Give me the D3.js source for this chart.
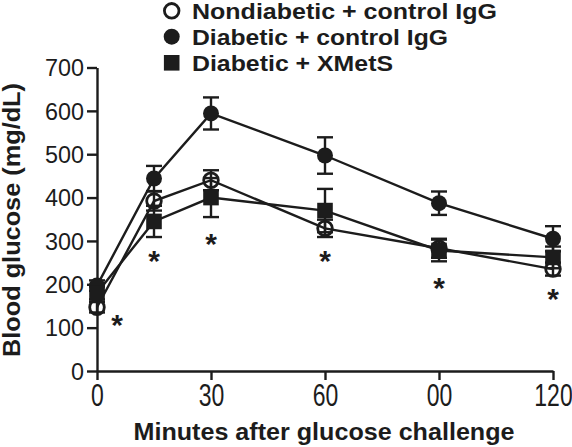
<!DOCTYPE html>
<html>
<head>
<meta charset="utf-8">
<script src="https://cdn.jsdelivr.net/npm/d3@7"></script>
<style>
  html, body { margin: 0; padding: 0; background: #fff; }
  svg { display: block; }
  text { font-family: "Liberation Sans", Arial, Helvetica, sans-serif; fill: #1c1c1c; }
</style>
</head>
<body>
<svg id="chart" width="572" height="447"></svg>
<script>
// ---- data ----
const times = [0, 15, 30, 60, 90, 120];
const seriesNames = ["Nondiabetic + control IgG", "Diabetic + control IgG", "Diabetic + XMetS"];
const nondiabeticIgG = [147, 392, 440, 329, 283, 235];
const nondiabeticIgGErr = [12, 22, 23, 20, 22, 15];
const diabeticIgG = [197, 444, 594, 497, 387, 305];
const diabeticIgGErr = [12, 29, 37, 42, 27, 29];
const diabeticXMetS = [180, 345, 400, 370, 278, 262];
const diabeticXMetSErr = [15, 36, 45, 50, 25, 25];
const xTickValues = [0, 30, 60, 90, 120];
const xTickLabels = ["0", "30", "60", "00", "120"];
const yTickValues = [0, 100, 200, 300, 400, 500, 600, 700];
const asteriskTimes = [5.3, 15, 30, 60, 90, 120];
const asteriskValues = [120, 267, 307, 267, 205, 180];
const xTitle = "Minutes after glucose challenge";
const yTitle = "Blood glucose (mg/dL)";

const INK = "#1c1c1c";
const svg = d3.select("#chart");

const x = d3.scaleLinear().domain([0, 120]).range([97, 553]);
const y = d3.scaleLinear().domain([0, 700]).range([371, 67.5]);

// ---- axes ----
const yAxis = svg.append("g")
  .attr("transform", `translate(${x(0)},0)`)
  .call(d3.axisLeft(y).tickValues(yTickValues).tickSize(10).tickSizeOuter(0).tickPadding(3));
yAxis.select(".domain").attr("stroke", INK).attr("stroke-width", 2.4);
yAxis.selectAll(".tick line").attr("stroke", INK).attr("stroke-width", 2.4);
yAxis.selectAll(".tick text")
  .attr("font-size", 23)
  .attr("fill", INK)
  .attr("dy", "0.36em")
  .attr("textLength", d => String(d).length * 13)
  .attr("lengthAdjust", "spacingAndGlyphs");

const xAxis = svg.append("g")
  .attr("transform", `translate(0,${y(0)})`)
  .call(d3.axisBottom(x).tickValues(xTickValues).tickFormat((d, i) => xTickLabels[i])
        .tickSize(9).tickSizeOuter(0));
xAxis.select(".domain").attr("stroke", INK).attr("stroke-width", 2.4);
xAxis.selectAll(".tick line").attr("stroke", INK).attr("stroke-width", 2.4);
xAxis.selectAll(".tick text")
  .attr("font-size", 23)
  .attr("fill", INK)
  .attr("y", 0).attr("dy", 0)
  .attr("transform", "translate(0,34.5) scale(1,1.38)");

// axis titles
svg.append("text")
  .attr("x", 324).attr("y", 440)
  .attr("text-anchor", "middle")
  .attr("font-size", 23).attr("font-weight", "bold")
  .attr("textLength", 381).attr("lengthAdjust", "spacingAndGlyphs")
  .text(xTitle);

svg.append("text")
  .attr("transform", "translate(19.5,220) rotate(-90)")
  .attr("text-anchor", "middle")
  .attr("font-size", 23).attr("font-weight", "bold")
  .attr("textLength", 274).attr("lengthAdjust", "spacingAndGlyphs")
  .text(yTitle);

// ---- series ----
const series = [
  { name: seriesNames[0], values: nondiabeticIgG, errs: nondiabeticIgGErr, shape: "openCircle" },
  { name: seriesNames[1], values: diabeticIgG, errs: diabeticIgGErr, shape: "circle" },
  { name: seriesNames[2], values: diabeticXMetS, errs: diabeticXMetSErr, shape: "square" }
];

const line = d3.line().x(d => x(d.t)).y(d => y(d.v));
const capHalf = 8;

series.forEach(s => {
  const pts = times.map((t, i) => ({ t, v: s.values[i], e: s.errs[i] }));
  const g = svg.append("g");
  g.append("path").datum(pts).attr("d", line)
    .attr("fill", "none").attr("stroke", INK).attr("stroke-width", 2.4);
  const eb = g.selectAll(".eb").data(pts).enter().append("g");
  eb.append("line")
    .attr("x1", d => x(d.t)).attr("x2", d => x(d.t))
    .attr("y1", d => y(d.v - d.e)).attr("y2", d => y(d.v + d.e))
    .attr("stroke", INK).attr("stroke-width", 2.4);
  eb.append("line")
    .attr("x1", d => x(d.t) - capHalf).attr("x2", d => x(d.t) + capHalf)
    .attr("y1", d => y(d.v + d.e)).attr("y2", d => y(d.v + d.e))
    .attr("stroke", INK).attr("stroke-width", 2.4);
  eb.append("line")
    .attr("x1", d => x(d.t) - capHalf).attr("x2", d => x(d.t) + capHalf)
    .attr("y1", d => y(d.v - d.e)).attr("y2", d => y(d.v - d.e))
    .attr("stroke", INK).attr("stroke-width", 2.4);
  s.pts = pts;
});

function drawMarker(sel, shape, cx, cy) {
  if (shape === "openCircle") {
    sel.append("circle").attr("cx", cx).attr("cy", cy).attr("r", 7.3)
      .attr("fill", "none").attr("stroke", INK).attr("stroke-width", 2.8);
  } else if (shape === "circle") {
    sel.append("circle").attr("cx", cx).attr("cy", cy).attr("r", 8)
      .attr("fill", INK);
  } else {
    sel.append("rect").attr("x", cx - 7.8).attr("y", cy - 7.8)
      .attr("width", 15.6).attr("height", 15.6).attr("fill", INK);
  }
}

series.forEach(s => {
  const g = svg.append("g");
  s.pts.forEach(d => drawMarker(g, s.shape, x(d.t), y(d.v)));
});

// ---- significance asterisks ----
asteriskTimes.forEach((t, i) => {
  svg.append("text")
    .attr("x", x(t)).attr("y", y(asteriskValues[i]) + 16)
    .attr("text-anchor", "middle")
    .attr("font-size", 30).attr("font-weight", "bold")
    .text("*");
});

// ---- legend ----
const legendY = [10.8, 36.7, 62.8];
const legendLen = [305, 256, 201];
series.forEach((s, i) => {
  const g = svg.append("g");
  drawMarker(g, s.shape, 171.7, legendY[i]);
  g.append("text")
    .attr("x", 192).attr("y", legendY[i] + 7.9)
    .attr("font-size", 22).attr("font-weight", "bold")
    .attr("textLength", legendLen[i]).attr("lengthAdjust", "spacingAndGlyphs")
    .text(s.name);
});
</script>
</body>
</html>
